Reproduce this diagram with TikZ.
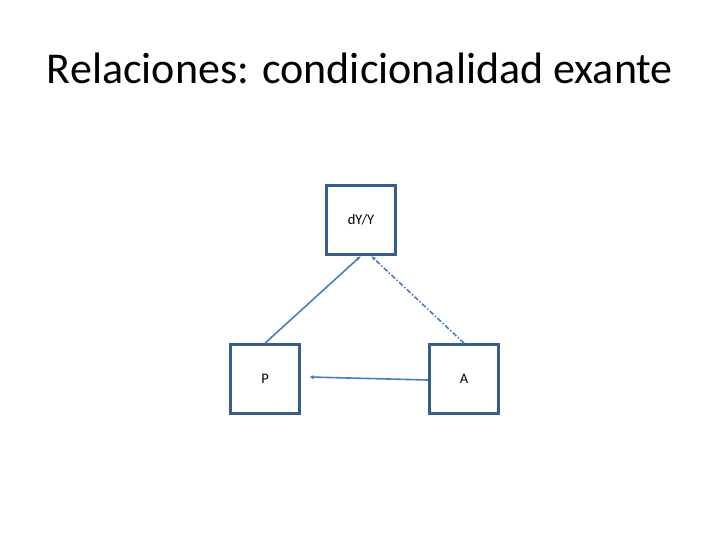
\documentclass[tikz,border=0pt]{standalone}
\usepackage{fontspec}
\setmainfont{Carlito}
\usetikzlibrary{arrows.meta,positioning}
\definecolor{boxblue}{RGB}{56,93,138}
\definecolor{linkblue}{RGB}{74,126,187}
\tikzstyle{var} = [draw=boxblue, line width=2.6pt, minimum size=69pt, inner sep=0pt, font=\fontsize{14.5}{17}\selectfont]
\tikzstyle{link} = [draw=linkblue, line width=1.6pt, -{Latex[length=5pt,width=4pt]}]
\begin{document}
\begin{tikzpicture}[x=1pt,y=-1pt]
\useasboundingbox (0,0) rectangle (720,540);
\node (title) at (360,68) {\fontsize{44}{50}\selectfont Relaciones: condicionalidad exante};
%
\node (dyy) at (361,220) [var] {dY/Y};
\node (p) at (265,379) [var] {P};
\node (a) at (464,379) [var] {A};
%
\draw [link] (p.north) -- (dyy.south);
\draw [link, dash pattern=on 5pt off 2pt on 1.5pt off 2pt] (a.north) -- ([xshift=10pt]dyy.south);
\draw [link] ([yshift=-1pt]a.west) -- ([xshift=8pt,yshift=2pt]p.east);
\end{tikzpicture}
\end{document}
